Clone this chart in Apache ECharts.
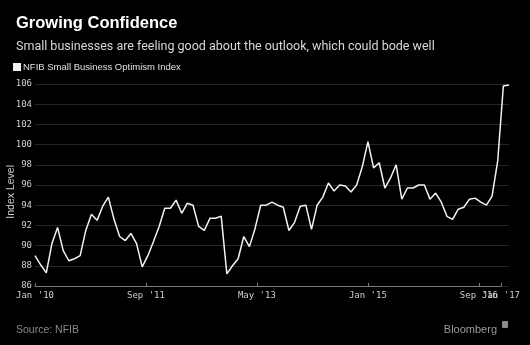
<!DOCTYPE html>
<html><head><meta charset="utf-8">
<script src="https://cdn.jsdelivr.net/npm/echarts@6/dist/echarts.min.js"></script>
<style>html,body{margin:0;padding:0;background:#000}#c{width:530px;height:345px}</style>
</head><body><div id="c"></div>
<script>
// ---- data ----
const monthNames = ['Jan','Feb','Mar','Apr','May','Jun','Jul','Aug','Sep','Oct','Nov','Dec'];
const startYear = 2010;
const optimism = [
  89.0, 88.1, 87.3, 90.2, 91.8, 89.5, 88.5, 88.7, 89.0, 91.5, 93.1, 92.5,
  93.9, 94.8, 92.6, 90.9, 90.5, 91.2, 90.2, 87.9, 89.0, 90.4, 91.9, 93.7,
  93.7, 94.5, 93.2, 94.2, 94.0, 91.9, 91.5, 92.7, 92.7, 92.9, 87.2, 88.0,
  88.7, 90.9, 89.9, 91.7, 94.0, 94.0, 94.3, 94.0, 93.8, 91.5, 92.3, 93.9,
  94.0, 91.6, 94.0, 94.8, 96.2, 95.4, 96.0, 95.9, 95.3, 96.0, 97.8, 100.3,
  97.7, 98.2, 95.7, 96.7, 98.0, 94.6, 95.7, 95.7, 96.0, 96.0, 94.6, 95.2,
  94.3, 92.9, 92.6, 93.6, 93.8, 94.6, 94.7, 94.3, 94.0, 94.9, 98.4, 105.8,
  105.9
];
const tickLabels = ["Jan '10", "Sep '11", "May '13", "Jan '15", "Sep '16"];
const lastTickLabel = "Jan '17";
const yMin = 86, yMax = 106, yStep = 2;

const categories = optimism.map((v, i) =>
  monthNames[i % 12] + " '" + String((startYear + Math.floor(i / 12)) % 100).padStart(2, '0'));

const chart = echarts.init(document.getElementById('c'), null, {renderer: 'canvas'});
const mono = 'DejaVu Sans Mono';
const showTick = (idx, val) => tickLabels.indexOf(val) >= 0;
const showLast = (idx, val) => val === lastTickLabel;

chart.setOption({
  backgroundColor: '#000',
  animation: false,
  title: [
    {text: 'Growing Confidence', left: 11, top: 10,
     textStyle: {color: '#fff', fontSize: 16.5, fontWeight: 'bold', fontFamily: 'Liberation Sans'}},
    {text: 'Small businesses are feeling good about the outlook, which could bode well', left: 11, top: 35,
     textStyle: {color: '#d8d8d8', fontSize: 12.5, fontWeight: 'normal', fontFamily: 'Roboto'}},
    {text: 'Source: NFIB', left: 11, top: 320,
     textStyle: {color: '#8a8a8a', fontSize: 10.5, fontWeight: 'normal', fontFamily: 'Liberation Sans'}},
    {text: 'Bloomberg', right: 28, top: 319,
     textStyle: {color: '#9a9a9a', fontSize: 11, fontWeight: 'normal', fontFamily: 'Liberation Sans'}}
  ],
  legend: {
    left: 8, top: 57, icon: 'rect', itemWidth: 8, itemHeight: 8, itemGap: 4,
    textStyle: {color: '#e0e0e0', fontSize: 9.5, fontFamily: 'Liberation Sans', padding: [0, 0, 0, -3]},
    data: ['NFIB Small Business Optimism Index']
  },
  graphic: [
    {type: 'text', left: 6, top: 165, rotation: Math.PI / 2,
     style: {text: 'Index Level', fill: '#c8c8c8', font: '10.5px "Liberation Sans"'}},
    {type: 'rect', right: 22, top: 321, shape: {width: 6, height: 7, r: 1}, style: {fill: '#8a8a8a'}}
  ],
  grid: [
    {left: 35, right: 21, top: 84, bottom: 59, containLabel: false},
    {left: 35, right: 29, top: 84, bottom: 59, containLabel: false},
    {left: 35, right: 29, top: 84, bottom: 59, containLabel: false}
  ],
  xAxis: [
    {type: 'category', gridIndex: 0, data: categories, boundaryGap: false,
     axisLine: {show: false}, axisTick: {show: false}, axisLabel: {show: false}, splitLine: {show: false}},
    {type: 'category', gridIndex: 1, data: categories, boundaryGap: false, position: 'bottom',
     axisLine: {show: true, lineStyle: {color: '#7a7a7a', width: 1}},
     axisTick: {show: true, interval: showTick, inside: true, length: 3, lineStyle: {color: '#7a7a7a'}},
     axisLabel: {show: true, interval: showTick, color: '#cfcfcf', fontSize: 9, fontFamily: mono, margin: 5},
     splitLine: {show: false}},
    {type: 'category', gridIndex: 2, data: categories, boundaryGap: false, position: 'bottom',
     axisLine: {show: false},
     axisTick: {show: true, interval: showLast, inside: true, length: 3, lineStyle: {color: '#7a7a7a'}},
     axisLabel: {show: true, interval: showLast, color: '#cfcfcf', fontSize: 9, fontFamily: mono, margin: 5,
                 showMaxLabel: true, showMinLabel: false},
     splitLine: {show: false}}
  ],
  yAxis: [
    {type: 'value', gridIndex: 0, min: yMin, max: yMax, interval: yStep,
     axisLine: {show: false}, axisTick: {show: false},
     axisLabel: {color: '#cfcfcf', fontSize: 9, fontFamily: mono, margin: 3},
     splitLine: {show: true, lineStyle: {color: '#262626', width: 1}}},
    {type: 'value', gridIndex: 1, min: 0, max: 1, show: false},
    {type: 'value', gridIndex: 2, min: 0, max: 1, show: false}
  ],
  series: [{
    name: 'NFIB Small Business Optimism Index', type: 'line', xAxisIndex: 0, yAxisIndex: 0,
    data: optimism, showSymbol: false, symbol: 'none',
    lineStyle: {color: '#f2f2f2', width: 1.5}, itemStyle: {color: '#f2f2f2'}
  }]
});
</script></body></html>
